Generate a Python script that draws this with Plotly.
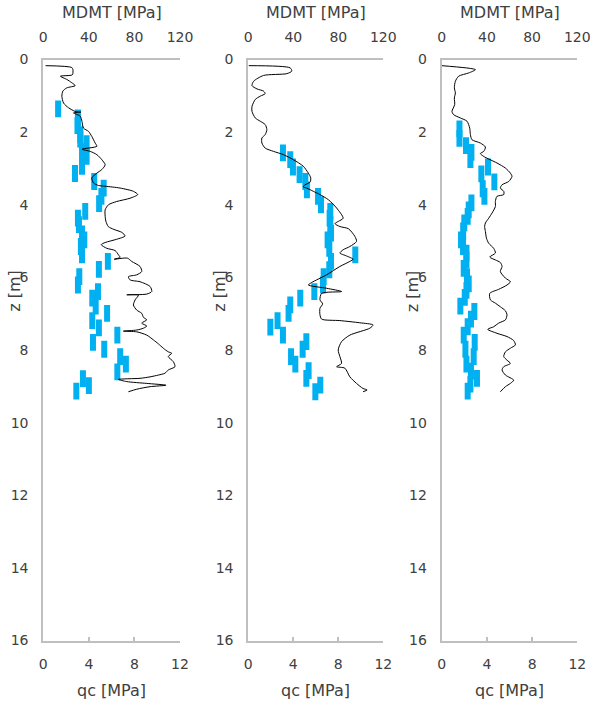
import plotly.graph_objects as go

# ---------------- data ----------------
# Panel 1 : CPT cone resistance qc [MPa] vs depth z [m]
qc1_z = [0.17, 0.22, 0.28, 0.42, 0.46, 0.55, 0.64, 0.72, 0.78, 0.87, 1.01, 1.2, 1.33, 1.43, 1.45, 1.47,
         1.56, 1.7, 1.89, 1.98, 2.12, 2.3, 2.39, 2.47, 2.53, 2.62, 2.76, 2.9, 3.03, 3.13, 3.26, 3.4,
         3.47, 3.49, 3.54, 3.63, 3.72, 3.82, 3.91, 4.0, 4.14, 4.32, 4.45, 4.6, 4.68, 4.76, 4.86, 4.95,
         5.04, 5.1, 5.2, 5.26, 5.38, 5.45, 5.5, 5.47, 5.56, 5.7, 5.84, 5.93, 5.98, 6.07, 6.12, 6.25,
         6.39, 6.46, 6.48, 6.49, 6.62, 6.76, 6.9, 6.99, 7.1, 7.17, 7.26, 7.34, 7.4, 7.45, 7.48, 7.5,
         7.59, 7.72, 7.83, 7.95, 8.05, 8.09, 8.18, 8.32, 8.46, 8.55, 8.64, 8.69, 8.74, 8.78, 8.81, 8.87,
         8.92, 8.97, 9.01, 9.08, 9.15]
qc1_v = [0.2, 2.5, 2.6, 2.55, 1.5, 2.07, 2.5, 2.8, 2.07, 1.72, 1.63, 1.78, 2.22, 2.8, 3.3, 2.65,
         3.24, 3.39, 3.53, 3.97, 4.26, 4.55, 4.7, 3.4, 4.12, 4.7, 5.14, 5.43, 5.14, 4.7, 4.26, 4.41,
         4.85, 5.43, 6.74, 7.91, 8.29, 7.62, 6.45, 5.72, 5.43, 5.43, 5.49, 5.7, 6.2, 6.89, 7.18, 6.45,
         5.43, 5.08, 5.58, 6.3, 6.6, 6.74, 6.22, 7.38, 7.76, 8.49, 8.64, 8.2, 7.47, 7.62, 8.49, 9.37,
         9.52, 9.08, 7.33, 8.35, 8.06, 7.91, 8.2, 8.64, 8.79, 9.08, 8.64, 9.08, 8.79, 8.2, 7.03, 8.2,
         9.08, 9.66, 10.1, 10.53, 10.97, 11.27, 10.97, 11.41, 11.56, 10.97, 10.68, 10.1, 9.37, 8.49, 6.6, 7.33,
         9.08, 10.77, 9.37, 8.2, 7.47]

# Panel 1 : MDMT [MPa] vs depth
md1_z = [1.36, 1.61, 1.82, 2.07, 2.19, 2.32, 2.53, 2.67, 2.94, 3.14, 3.36, 3.54, 3.77, 3.97, 4.18, 4.37,
         4.55, 4.8, 4.97, 5.15, 5.38, 5.56, 5.78, 5.98, 6.21, 6.39, 6.57, 6.79, 6.99, 7.19, 7.39, 7.59,
         7.79, 7.98, 8.18, 8.39, 8.6, 8.79, 8.98, 9.13]
md1_v = [13, 30.4, 30, 32.5, 32.5, 38, 34, 38, 34, 27.8, 44.7, 53, 51, 49, 36.8, 30.4,
         31.3, 34, 36, 33, 34, 56.7, 48.8, 31.6, 30.4, 48, 43, 46, 56, 43, 48.8, 65,
         43.6, 53.5, 67.5, 72.5, 65, 34.8, 40, 29]

# Panel 2
qc2_z = [0.17, 0.23, 0.32, 0.39, 0.44, 0.6, 0.72, 0.81, 0.87, 0.94, 1.01, 1.1, 1.29, 1.43, 1.61, 1.7,
         1.79, 1.93, 2.07, 2.16, 2.3, 2.44, 2.53, 2.62, 2.76, 2.94, 3.13, 3.26, 3.38, 3.45, 3.51, 3.54,
         3.63, 3.72, 3.86, 4.09, 4.37, 4.46, 4.52, 4.6, 4.66, 4.87, 5.01, 5.15, 5.24, 5.33, 5.41, 5.5,
         5.56, 5.7, 5.93, 6.14, 6.21, 6.3, 6.39, 6.44, 6.62, 6.73, 6.85, 7.03, 7.15, 7.19, 7.25, 7.31,
         7.4, 7.59, 7.77, 8.0, 8.18, 8.37, 8.46, 8.5, 8.74, 8.92, 9.06, 9.1, 9.15]
qc2_v = [0.03, 3.72, 3.87, 3.42, 1.35, 0.47, 0.33, 0.77, 1.35, 1.5, 1.06, 0.62, 0.33, 0.33, 0.62, 1.06,
         1.5, 1.65, 1.5, 1.21, 1.21, 1.5, 2.24, 3.12, 4.01, 4.89, 5.34, 5.55, 5.49, 5.04, 4.89, 5.19,
         5.78, 6.37, 7.11, 7.85, 8.43, 7.99, 7.7, 8.14, 8.9, 9.47, 9.62, 9.03, 8.43, 8.14, 8.73, 9.32,
         9.03, 8.14, 6.96, 5.64, 5.34, 6.96, 8.29, 6.52, 6.37, 6.61, 6.37, 6.37, 6.52, 8.14, 9.91, 11.09,
         10.8, 9.03, 8.29, 7.99, 8.14, 8.29, 7.85, 8.58, 9.03, 9.62, 10.2, 10.56, 10.2]

md2_z = [2.57, 2.76, 2.96, 3.17, 3.36, 3.59, 3.77, 4.0, 4.18, 4.37, 4.55, 4.78, 4.97, 5.2, 5.38, 5.56,
         5.79, 5.98, 6.21, 6.39, 6.57, 6.76, 6.99, 7.19, 7.37, 7.59, 7.77, 7.98, 8.18, 8.39, 8.57, 8.78,
         8.97, 9.15]
md2_v = [30.8, 37.3, 39.7, 45.6, 50.7, 52.1, 62, 64.6, 72.9, 72.3, 72.9, 73.5, 70.5, 72, 95.1, 73.5,
         72, 67, 66.4, 58.7, 46.2, 37.3, 35.8, 26, 19.6, 30.8, 51.6, 48.3, 38, 41.8, 53.6, 51.6,
         64, 59.6]

# Panel 3
qc3_z = [0.17, 0.28, 0.37, 0.46, 0.6, 0.78, 0.92, 1.06, 1.24, 1.43, 1.52, 1.61, 1.7, 1.89, 2.07, 2.21,
         2.3, 2.41, 2.53, 2.59, 2.67, 2.85, 2.99, 3.13, 3.22, 3.36, 3.45, 3.54, 3.63, 3.72, 3.77, 3.91,
         4.05, 4.23, 4.37, 4.5, 4.6, 4.74, 4.92, 5.06, 5.2, 5.33, 5.44, 5.52, 5.59, 5.7, 5.84, 6.02,
         6.12, 6.21, 6.33, 6.44, 6.62, 6.71, 6.81, 6.92, 7.03, 7.17, 7.26, 7.36, 7.43, 7.54, 7.63, 7.74,
         7.86, 7.95, 8.05, 8.18, 8.28, 8.37, 8.46, 8.55, 8.69, 8.83, 8.92, 9.01, 9.15]
qc3_v = [0.0, 2.98, 2.39, 1.5, 1.21, 1.12, 1.21, 1.12, 1.15, 0.91, 1.06, 1.65, 2.24, 2.48, 2.54, 2.68,
         3.42, 3.87, 3.72, 3.42, 3.72, 4.89, 5.64, 6.08, 6.22, 5.93, 5.34, 5.19, 5.49, 5.49, 4.89, 4.75,
         4.75, 4.45, 4.16, 3.87, 3.8, 3.87, 3.96, 4.16, 4.6, 4.75, 4.25, 4.75, 5.19, 5.34, 5.19, 5.64,
         6.08, 5.78, 5.04, 4.25, 4.31, 4.75, 5.19, 5.64, 5.78, 5.64, 5.04, 4.6, 4.07, 4.89, 5.78, 6.37,
         6.52, 6.08, 5.64, 5.49, 5.78, 6.08, 5.49, 5.34, 5.64, 6.37, 6.08, 5.64, 5.19]

md3_z = [1.91, 2.17, 2.37, 2.56, 2.76, 2.96, 3.15, 3.37, 3.56, 3.77, 3.95, 4.14, 4.32, 4.5, 4.72, 4.97,
         5.15, 5.33, 5.52, 5.75, 5.98, 6.18, 6.36, 6.55, 6.79, 6.94, 7.15, 7.36, 7.59, 7.79, 7.98, 8.18,
         8.39, 8.58, 8.78, 8.94, 9.13]
md3_v = [15.7, 15.7, 21.5, 26.3, 25.4, 41, 35.1, 46.6, 36.3, 37.8, 26.3, 23.9, 23, 20, 19, 17.1,
         18.9, 21.9, 21.9, 19.5, 22.4, 23.9, 21.9, 20.4, 16.5, 28.9, 25.9, 23, 19.5, 29.2, 21, 28.3,
         21.9, 25.9, 31.2, 25.4, 23]

qc_series = [(qc1_z, qc1_v), (qc2_z, qc2_v), (qc3_z, qc3_v)]
md_series = [(md1_z, md1_v), (md2_z, md2_v), (md3_z, md3_v)]

qc_ticks = [0, 4, 8, 12]
md_ticks = [0, 40, 80, 120]
z_ticks = [0, 2, 4, 6, 8, 10, 12, 14, 16]

# ---------------- layout helpers ----------------
W, H = 591, 702
def fx(p):
    return p / W
def fy(p):
    return 1 - p / H

PANEL_X = [(43.3, 180.0), (248.3, 383.3), (441.7, 577.3)]
Y_TOP, Y_BOT = 59.5, 640.5
AXIS_COL = "#bfbfbf"
TXT_COL = "#404040"
FONT = "DejaVu Sans"
MARK_COL = "#00b0f0"

fig = go.Figure()
layout = dict(
    template="none",
    width=W, height=H, margin=dict(l=0, r=0, t=0, b=0, pad=0, autoexpand=False),
    paper_bgcolor="white", plot_bgcolor="white", showlegend=False,
    font=dict(family=FONT, size=14, color=TXT_COL),
)
annotations = []

for i in range(3):
    xb = f"x{2*i+1}" if i > 0 else "x"   # top MDMT axis (base)
    xq = f"x{2*i+2}"                       # bottom qc axis (overlaying)
    yy = f"y{i+1}" if i > 0 else "y"
    x0, x1 = PANEL_X[i]
    dom = [fx(x0), fx(x1)]
    ydom = [fy(Y_BOT), fy(Y_TOP)]

    mz, mv = md_series[i]
    fig.add_trace(go.Scatter(
        x=mv, y=mz, xaxis=xb, yaxis=yy, mode="markers",
        marker=dict(symbol="line-ns", size=12, color=MARK_COL,
                    line=dict(width=6, color=MARK_COL)),
        hoverinfo="skip"))
    qz, qv = qc_series[i]
    fig.add_trace(go.Scatter(
        x=qv, y=qz, xaxis=xq, yaxis=yy, mode="lines",
        line=dict(color="black", width=1, shape="spline", smoothing=0.7),
        hoverinfo="skip"))

    kb = "xaxis" if i == 0 else f"xaxis{2*i+1}"
    kq = f"xaxis{2*i+2}"
    ky = "yaxis" if i == 0 else f"yaxis{i+1}"
    layout[kb] = dict(
        domain=dom, anchor=yy, side="top", range=[0, 120], automargin=False,
        tickvals=md_ticks, showgrid=False, zeroline=False,
        showline=True, linecolor=AXIS_COL, linewidth=1.5,
        ticks="", ticklabelstandoff=10,
        tickfont=dict(family=FONT, size=14, color=TXT_COL))
    layout[kq] = dict(
        domain=dom, anchor=yy, side="bottom", overlaying=xb, range=[0, 12], automargin=False,
        tickvals=qc_ticks, showgrid=False, zeroline=False,
        showline=True, linecolor=AXIS_COL, linewidth=1.5,
        ticks="inside", ticklen=4, tickcolor=AXIS_COL, tickwidth=1.5,
        ticklabelstandoff=10,
        tickfont=dict(family=FONT, size=14, color=TXT_COL))
    layout[ky] = dict(
        domain=ydom, anchor=xb, range=[16, 0], tickvals=z_ticks, automargin=False,
        showgrid=False, zeroline=False, showline=True,
        linecolor=AXIS_COL, linewidth=2, ticks="", ticklabelstandoff=10,
        tickfont=dict(family=FONT, size=14, color=TXT_COL))

    cx = (x0 + x1) / 2
    annotations.append(dict(text="MDMT [MPa]", x=fx(cx), y=fy(13), xref="paper", yref="paper",
                            xanchor="center", yanchor="middle", showarrow=False,
                            font=dict(family=FONT, size=16, color=TXT_COL)))
    annotations.append(dict(text="qc [MPa]", x=fx(cx), y=fy(690), xref="paper", yref="paper",
                            xanchor="center", yanchor="middle", showarrow=False,
                            font=dict(family=FONT, size=16, color=TXT_COL)))
    annotations.append(dict(text="z [m]", x=fx(x0 - 29.5), y=fy(291), xref="paper", yref="paper",
                            xanchor="center", yanchor="middle", showarrow=False, textangle=-90,
                            font=dict(family=FONT, size=16, color=TXT_COL)))

layout["annotations"] = annotations
fig.update_layout(**layout)
fig.write_html("out.html", config={"displayModeBar": False},
               post_script="document.body.style.margin='0px';document.body.style.padding='0px';")
